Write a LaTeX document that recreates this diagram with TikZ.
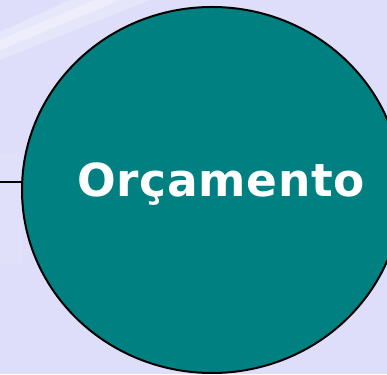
\documentclass[tikz,border=0pt]{standalone}
\usepackage{fontspec}
\setmainfont{DejaVu Sans}
\newfontfamily\labelfont[LetterSpace=1.5]{DejaVu Sans}
\usetikzlibrary{shapes.geometric}
\definecolor{bgcol}{RGB}{222,222,250}
\definecolor{tealfill}{RGB}{0,128,128}
\tikzset{
  bigoval/.style={ellipse, draw=black, line width=2pt, fill=tealfill,
    minimum width=380pt, minimum height=366pt, inner sep=0pt},
  ovaltext/.style={text=white, font=\labelfont\bfseries\fontsize{45.5}{54}\selectfont,
    inner sep=0pt, anchor=base west},
  link/.style={draw=black, line width=1.2pt}
}
\begin{document}
\begin{tikzpicture}[x=1pt,y=1pt]
\useasboundingbox (0,0) rectangle (387,374);
\fill[bgcol] (0,0) rectangle (387,374);
% light streaks in the background
\fill[white, opacity=0.25] (0,334) -- (95,374) -- (150,374) -- (0,314) -- cycle;
\fill[white, opacity=0.3] (0,342) -- (70,374) -- (120,374) -- (0,324) -- cycle;
\fill[white, opacity=0.08] (0,110) rectangle (22,220);
\node[bigoval] (oval) at (212,184) {};
\coordinate (lineend) at (0,192);
\draw[link] (lineend) -- (lineend -| oval.west);
\node[ovaltext] (label) at (77,177) {Orçamento};
\end{tikzpicture}
\end{document}
